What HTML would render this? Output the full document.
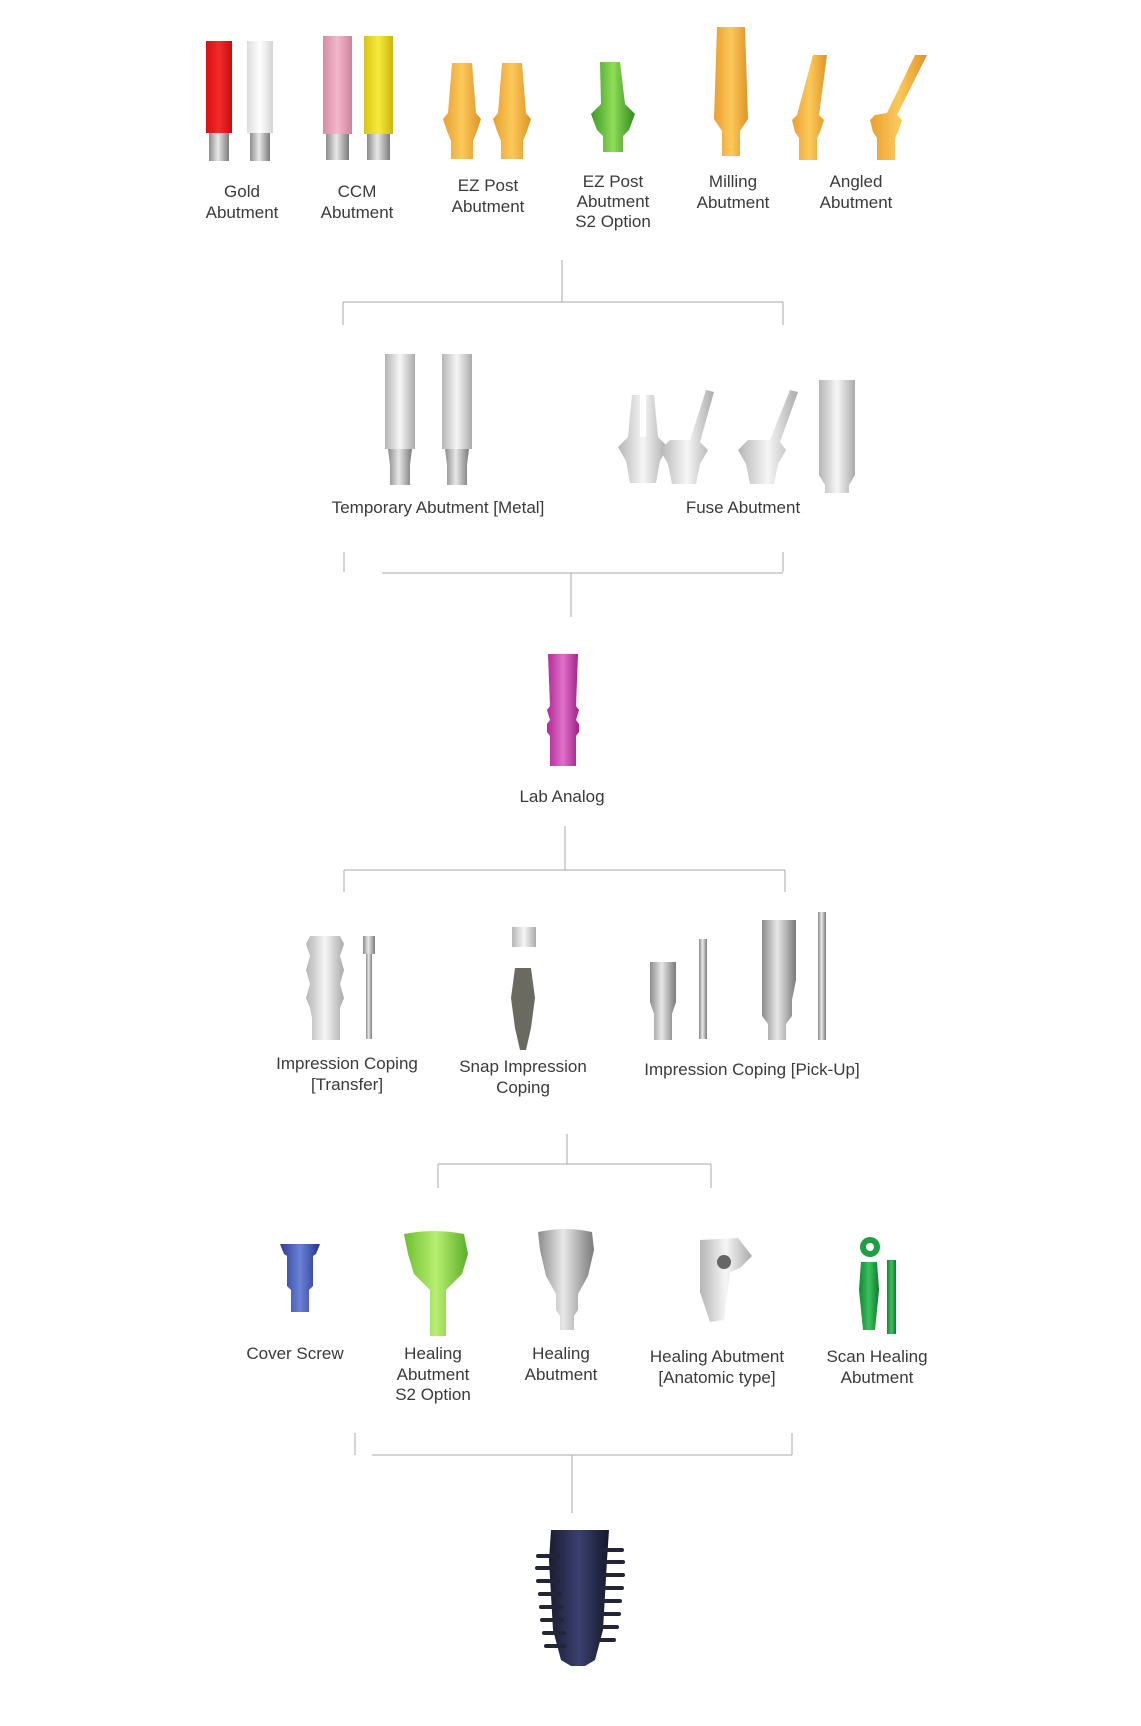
<!DOCTYPE html>
<html><head><meta charset="utf-8"><style>
html,body{margin:0;padding:0;background:#fff;}
svg{display:block}
text{font-family:"Liberation Sans",sans-serif;font-size:17px;fill:#3a3a3a;text-anchor:middle}
</style></head><body>
<svg width="1141" height="1726" viewBox="0 0 1141 1726" xmlns="http://www.w3.org/2000/svg">
<defs>
<linearGradient id="red" x1="0" x2="1"><stop offset="0" stop-color="#d80f14"/><stop offset=".5" stop-color="#f42a2a"/><stop offset="1" stop-color="#c50d10"/></linearGradient>
<linearGradient id="wht" x1="0" x2="1"><stop offset="0" stop-color="#ddd"/><stop offset=".5" stop-color="#fff"/><stop offset="1" stop-color="#d4d4d4"/></linearGradient>
<linearGradient id="pnk" x1="0" x2="1"><stop offset="0" stop-color="#d88aa5"/><stop offset=".5" stop-color="#f2b8cc"/><stop offset="1" stop-color="#cf819c"/></linearGradient>
<linearGradient id="yel" x1="0" x2="1"><stop offset="0" stop-color="#d8c418"/><stop offset=".5" stop-color="#f7ea3a"/><stop offset="1" stop-color="#cbb512"/></linearGradient>
<linearGradient id="gld" x1="0" x2="1"><stop offset="0" stop-color="#e8a030"/><stop offset=".5" stop-color="#fcc95a"/><stop offset="1" stop-color="#de9426"/></linearGradient>
<linearGradient id="grn" x1="0" x2="1"><stop offset="0" stop-color="#3c9a26"/><stop offset=".5" stop-color="#8fdc55"/><stop offset="1" stop-color="#2f8a1e"/></linearGradient>
<linearGradient id="lgr" x1="0" x2="1"><stop offset="0" stop-color="#6cc030"/><stop offset=".5" stop-color="#b8ee70"/><stop offset="1" stop-color="#5aae28"/></linearGradient>
<linearGradient id="met" x1="0" x2="1"><stop offset="0" stop-color="#8c8c8c"/><stop offset=".45" stop-color="#e8e8e8"/><stop offset="1" stop-color="#7a7a7a"/></linearGradient>
<linearGradient id="lmet" x1="0" x2="1"><stop offset="0" stop-color="#b5b5b5"/><stop offset=".5" stop-color="#f6f6f6"/><stop offset="1" stop-color="#aaa"/></linearGradient>
<linearGradient id="mag" x1="0" x2="1"><stop offset="0" stop-color="#b02a98"/><stop offset=".5" stop-color="#e070c8"/><stop offset="1" stop-color="#a0208a"/></linearGradient>
<linearGradient id="blu" x1="0" x2="1"><stop offset="0" stop-color="#2c3c98"/><stop offset=".5" stop-color="#6a82d8"/><stop offset="1" stop-color="#25348a"/></linearGradient>
<linearGradient id="sgr" x1="0" x2="1"><stop offset="0" stop-color="#128a30"/><stop offset=".5" stop-color="#3cc060"/><stop offset="1" stop-color="#0e7a28"/></linearGradient>
<linearGradient id="imp" x1="0" x2="1"><stop offset="0" stop-color="#1a1c30"/><stop offset=".5" stop-color="#3a4070"/><stop offset="1" stop-color="#15172a"/></linearGradient>
</defs>

<!-- Row 1 -->
<rect x="206" y="41" width="26" height="92" fill="url(#red)"/><rect x="209" y="133" width="20" height="28" fill="url(#met)"/>
<rect x="247" y="41" width="26" height="92" fill="url(#wht)"/><rect x="250" y="133" width="20" height="28" fill="url(#met)"/>
<rect x="323" y="36" width="29" height="98" fill="url(#pnk)"/><rect x="326" y="134" width="23" height="26" fill="url(#met)"/>
<rect x="364" y="36" width="29" height="98" fill="url(#yel)"/><rect x="367" y="134" width="23" height="26" fill="url(#met)"/>
<path d="M452 63h20l4 50 5 6-4 12-4 10v18h-22v-18l-4-10-4-12 5-6z" fill="url(#gld)"/>
<path d="M502 63h20l4 50 5 6-4 12-4 10v18h-22v-18l-4-10-4-12 5-6z" fill="url(#gld)"/>
<path d="M600 62h20l5 42 10 10-6 16-6 6v16h-20v-16l-6-6-6-16 10-10z" fill="url(#grn)"/>
<path d="M717 27h28l3 92-8 12v25h-18v-25l-8-12z" fill="url(#gld)"/>
<path d="M813 55h14l-8 60 5 5-4 12-3 6v22h-18v-22l-4-6-3-12 5-5z" fill="url(#gld)"/>
<path d="M915 55h12l-30 60 5 5-4 12-3 6v22h-18v-22l-4-6-3-12 5-5 12-2z" fill="url(#gld)"/>
<text x="242" y="197">Gold</text><text x="242" y="218">Abutment</text>
<text x="357" y="197">CCM</text><text x="357" y="218">Abutment</text>
<text x="488" y="191">EZ Post</text><text x="488" y="212">Abutment</text>
<text x="613" y="187">EZ Post</text><text x="613" y="207">Abutment</text><text x="613" y="227">S2 Option</text>
<text x="733" y="187">Milling</text><text x="733" y="208">Abutment</text>
<text x="856" y="187">Angled</text><text x="856" y="208">Abutment</text>

<g stroke="#a8a8a8" stroke-width="1" fill="none">
<path d="M562 260v42M343 302h440M343 302v23M783 302v23"/>
<path d="M344 552v20M783 552v20M382 573h401M571 573v44"/>
<path d="M565 826v44M344 870h441M344 870v22M785 870v22"/>
<path d="M567 1134v30M438 1164h273M438 1164v24M711 1164v24"/>
<path d="M355 1433v22M792 1433v22M372 1455h420M572 1455v58"/>
</g>

<!-- Row 2 -->
<rect x="385" y="354" width="30" height="95" fill="url(#lmet)"/><path d="M388 449h24l-2 16v20h-20v-20z" fill="url(#met)"/>
<rect x="442" y="354" width="30" height="95" fill="url(#lmet)"/><path d="M445 449h24l-2 16v20h-20v-20z" fill="url(#met)"/>
<g fill="url(#lmet)">
<path d="M632 395h8v42h6v-42h8l4 42 10 10-8 14-4 22h-26l-4-22-8-14 10-10z"/>
<path d="M690 440l16-50 8 2-14 50 8 8-8 14-4 20h-24l-4-20-8-14 10-10z"/>
<path d="M770 440l20-50 8 2-18 50 6 8-8 14-4 20h-24l-4-20-8-14 10-10z"/>
<path d="M819 380h36v95l-6 10v8h-24v-8l-6-10z"/>
</g>
<text x="438" y="513">Temporary Abutment [Metal]</text>
<text x="743" y="513">Fuse Abutment</text>

<!-- Lab analog -->
<path d="M548 654h30l-2 52 3 4-3 10 3 4v8l-3 4v30h-26v-30l-3-4v-8l3-4-3-10 3-4z" fill="url(#mag)"/>
<text x="562" y="802">Lab Analog</text>

<!-- Row 4 -->
<path d="M310 936h30l4 8-4 12 4 14-4 14 4 14-4 10 0 10v22h-28v-22l-2-10-4-10 4-14-4-14 4-14-4-12z" fill="url(#lmet)"/>
<rect x="363" y="936" width="12" height="18" fill="url(#met)"/><rect x="366" y="954" width="6" height="85" fill="url(#met)"/>
<rect x="512" y="927" width="24" height="20" fill="url(#lmet)"/>
<path d="M515 968h16l4 30-4 30-5 22h-6l-5-22-4-30z" fill="#6a6a60"/>
<path d="M650 962h26v40l-4 12v26h-18v-26l-4-12z" fill="url(#met)"/>
<rect x="699" y="939" width="8" height="100" fill="url(#met)"/>
<path d="M762 920h34v60l-4 20v16l-6 8v16h-18v-16l-6-8v-16z" fill="url(#met)"/>
<rect x="818" y="912" width="8" height="128" fill="url(#met)"/>
<text x="347" y="1069">Impression Coping</text><text x="347" y="1090">[Transfer]</text>
<text x="523" y="1072">Snap Impression</text><text x="523" y="1093">Coping</text>
<text x="752" y="1075">Impression Coping [Pick-Up]</text>

<!-- Row 5 -->
<path d="M280 1244h40l-4 10-3 2v30l-4 4v22h-18v-22l-4-4v-30l-3-2z" fill="url(#blu)"/>
<path d="M404 1234q30-6 60 0l4 20-6 20-12 12-4 4v46h-16v-46l-4-4-12-12-6-20z" fill="url(#lgr)"/>
<path d="M538 1232q28-6 54 0l2 18-6 26-10 18v16l-4 6v14h-14v-14l-4-6v-16l-10-18-6-26z" fill="url(#met)"/>
<path d="M700 1240l38-2 14 18-12 12-10 4-6 48-14 2-10-30z" fill="url(#lmet)"/><circle cx="724" cy="1262" r="7" fill="#666"/>
<circle cx="870" cy="1247" r="10" fill="#1ea040"/><circle cx="870" cy="1247" r="4" fill="#fff"/>
<path d="M861 1262h16l2 28-4 40h-12l-4-40z" fill="url(#sgr)"/><rect x="887" y="1260" width="9" height="74" fill="url(#sgr)"/>
<text x="295" y="1359">Cover Screw</text>
<text x="433" y="1359">Healing</text><text x="433" y="1380">Abutment</text><text x="433" y="1400">S2 Option</text>
<text x="561" y="1359">Healing</text><text x="561" y="1380">Abutment</text>
<text x="717" y="1362">Healing Abutment</text><text x="717" y="1383">[Anatomic type]</text>
<text x="877" y="1362">Scan Healing</text><text x="877" y="1383">Abutment</text>

<!-- Implant -->
<path d="M551 1530h58l-2 30-4 70-8 30-10 6h-14l-10-6-8-30-4-70z" fill="url(#imp)"/>
<g stroke="#222538" stroke-width="4" stroke-linecap="round">
<path d="M538 1556h20M537 1568h20M538 1581h20M540 1594h20M541 1607h20M542 1620h20M544 1633h20M546 1646h18"/>
<path d="M604 1550h18M604 1562h19M604 1575h19M603 1588h19M602 1601h18M601 1614h18M600 1627h17M598 1640h16"/>
</g>
</svg>
</body></html>
